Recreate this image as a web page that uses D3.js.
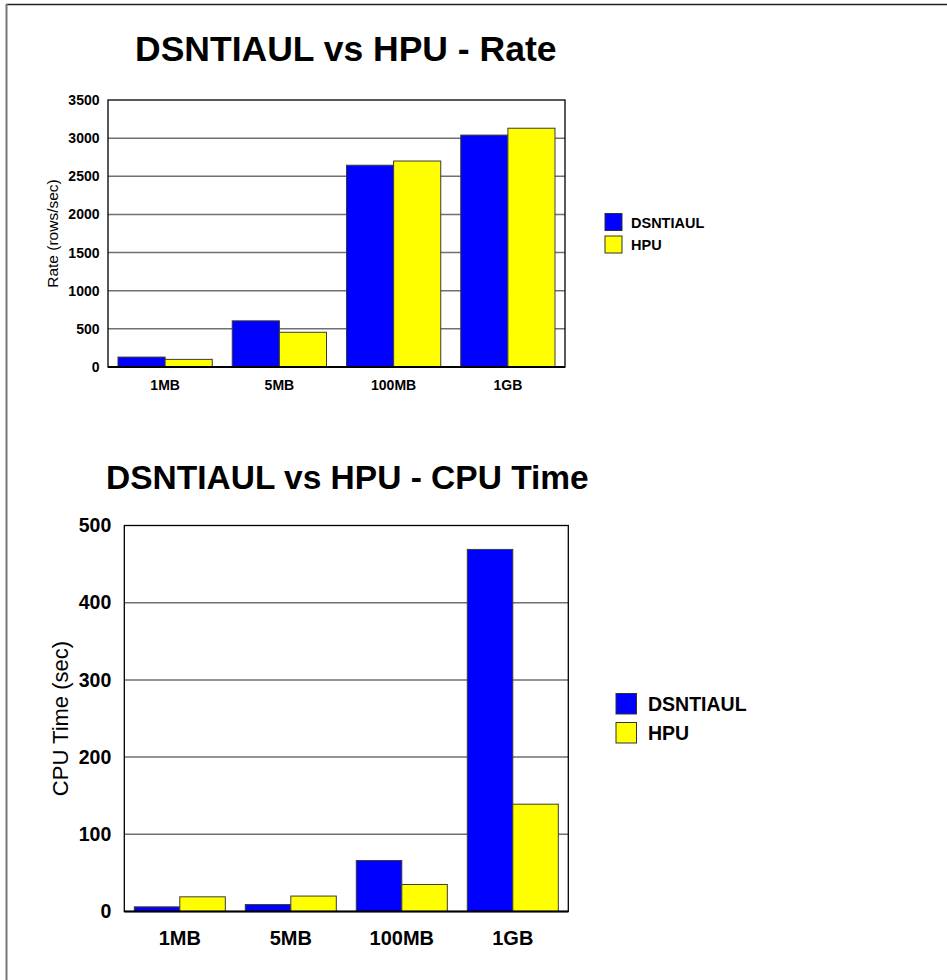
<!DOCTYPE html>
<html><head><meta charset="utf-8">
<script src="https://cdn.jsdelivr.net/npm/d3@7"></script>
<style>body{margin:0;background:#fff}svg{display:block;font-family:"Liberation Sans",Arial,Helvetica,sans-serif}</style>
</head><body>
<svg id="c" width="947" height="980"></svg>
<script>
const categories = ["1MB","5MB","100MB","1GB"];
const seriesNames = ["DSNTIAUL","HPU"];
const seriesColors = ["#0000ff","#ffff00"];
const rateDSNTIAUL = [130, 605, 2645, 3040];
const rateHPU = [100, 455, 2700, 3130];
const rateTicks = [0,500,1000,1500,2000,2500,3000,3500];
const cpuDSNTIAUL = [6, 9, 66, 469];
const cpuHPU = [19, 20, 35, 139];
const cpuTicks = [0,100,200,300,400,500];

const svg = d3.select("#c");
// page frame
svg.append("line").attr("x1",6).attr("x2",947).attr("y1",4.5).attr("y2",4.5).attr("stroke","#222").attr("stroke-width",1.5);
svg.append("line").attr("x1",6.5).attr("x2",6.5).attr("y1",4).attr("y2",980).attr("stroke","#777").attr("stroke-width",2);

function drawChart(cfg){
  const g = svg.append("g");
  const x = d3.scaleBand().domain(categories).range([cfg.left,cfg.right]).paddingInner(cfg.pin).paddingOuter(cfg.pout);
  const xs = d3.scaleBand().domain(seriesNames).range([0,x.bandwidth()]);
  const y = d3.scaleLinear().domain([0,cfg.max]).range([cfg.bottom,cfg.top]);
  // title
  g.append("text").attr("x",cfg.titleX).attr("y",cfg.titleY).attr("font-size",cfg.titleSize).attr("font-weight","bold").attr("fill","#000").text(cfg.title);
  // grid
  g.selectAll("line.grid").data(cfg.ticks.filter(t=>t>0&&t<cfg.max)).join("line")
    .attr("x1",cfg.left).attr("x2",cfg.right).attr("y1",d=>y(d)).attr("y2",d=>y(d))
    .attr("stroke","#707070").attr("stroke-width",1.5);
  // bars
  const data = [];
  categories.forEach((c,i)=>{ seriesNames.forEach((s,j)=>{ data.push({c,s,j,v:cfg.values[j][i]}); }); });
  g.selectAll("rect.bar").data(data).join("rect")
    .attr("x",d=>x(d.c)+xs(d.s)).attr("width",xs.bandwidth())
    .attr("y",d=>y(d.v)).attr("height",d=>y(0)-y(d.v))
    .attr("fill",d=>seriesColors[d.j]).attr("stroke","#3a3a3a").attr("stroke-width",1);
  // frame
  g.append("rect").attr("x",cfg.left).attr("y",cfg.top).attr("width",cfg.right-cfg.left).attr("height",cfg.bottom-cfg.top)
    .attr("fill","none").attr("stroke","#000").attr("stroke-width",1.3);
  g.append("line").attr("x1",cfg.left).attr("x2",cfg.right).attr("y1",cfg.bottom).attr("y2",cfg.bottom).attr("stroke","#000").attr("stroke-width",2.2);
  // y axis
  const ya = g.append("g").attr("transform",`translate(${cfg.left},0)`)
    .call(d3.axisLeft(y).tickValues(cfg.ticks).tickFormat(d3.format("d")).tickSize(0).tickPadding(cfg.ytPad));
  ya.select(".domain").remove();
  ya.selectAll("text").attr("font-size",cfg.tickSize).attr("font-weight","bold").attr("fill","#000").attr("font-family","Liberation Sans, Arial, sans-serif");
  // x labels
  g.selectAll("text.xl").data(categories).join("text")
    .attr("x",d=>x(d)+x.bandwidth()/2).attr("y",cfg.xlY).attr("text-anchor","middle")
    .attr("font-size",cfg.xlSize).attr("font-weight","bold").attr("fill","#000").text(d=>d);
  // y title
  g.append("text").attr("transform",`translate(${cfg.ytX},${(cfg.top+cfg.bottom)/2}) rotate(-90)`)
    .attr("text-anchor","middle").attr("font-size",cfg.ytSize).attr("fill","#000").text(cfg.ylabel);
  // legend
  seriesNames.forEach((s,j)=>{
    g.append("rect").attr("x",cfg.legX).attr("y",cfg.legY+j*cfg.legGap).attr("width",cfg.legBox).attr("height",cfg.legBox)
      .attr("fill",seriesColors[j]).attr("stroke","#333").attr("stroke-width",1);
    g.append("text").attr("x",cfg.legTX).attr("y",cfg.legY+j*cfg.legGap+cfg.legBox*0.85).attr("font-size",cfg.legSize)
      .attr("font-weight","bold").attr("fill","#000").text(s);
  });
}

drawChart({title:"DSNTIAUL vs HPU - Rate",titleX:135,titleY:61,titleSize:35.5,
  left:108,right:565,top:100,bottom:367,pin:0.175,pout:0.0875,max:3500,ticks:rateTicks,
  values:[rateDSNTIAUL,rateHPU],tickSize:14,ytPad:8.5,xlY:390,xlSize:14,
  ylabel:"Rate (rows/sec)",ytX:58,ytSize:15.5,
  legX:605,legY:213.5,legBox:17,legGap:22.5,legTX:631,legSize:14.5});

drawChart({title:"DSNTIAUL vs HPU - CPU Time",titleX:106,titleY:489,titleSize:33.5,
  left:124.3,right:568.3,top:525.5,bottom:911.5,pin:0.18,pout:0.09,max:500,ticks:cpuTicks,
  values:[cpuDSNTIAUL,cpuHPU],tickSize:19.5,ytPad:13,xlY:945,xlSize:20,
  ylabel:"CPU Time (sec)",ytX:68,ytSize:22,
  legX:616,legY:693.5,legBox:20.5,legGap:29,legTX:648,legSize:19.5});
</script>
</body></html>
